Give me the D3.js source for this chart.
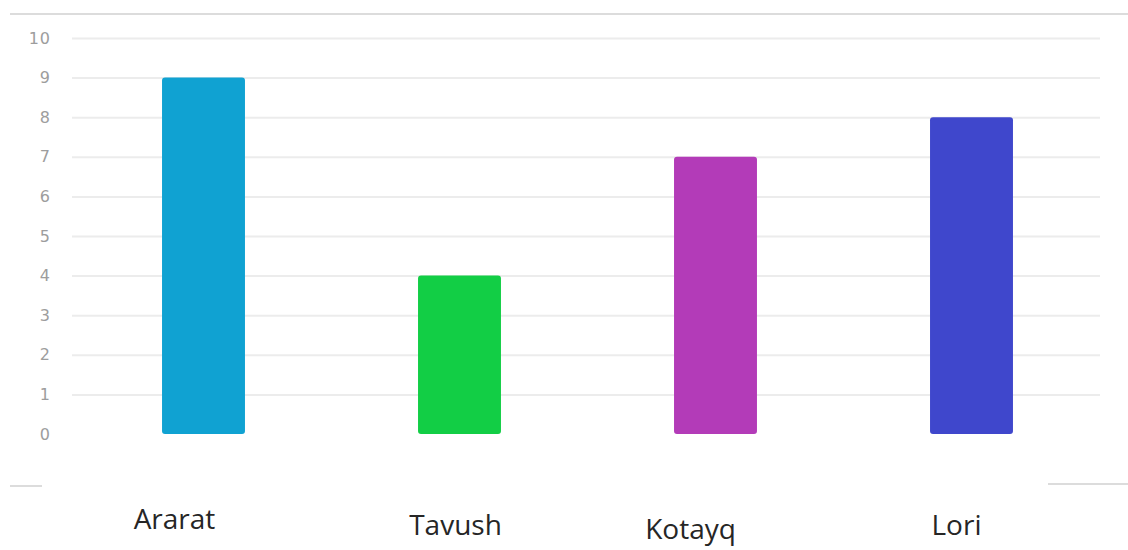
<!DOCTYPE html>
<html>
<head>
<meta charset="utf-8">
<script src="https://cdn.jsdelivr.net/npm/d3@7"></script>
<style>
body { margin: 0; background: #fff; }
.grid line { stroke: #ececec; stroke-width: 2; }
.grid path { display: none; }
.yaxis text { fill: #9d9d9d; font-family: "DejaVu Sans", sans-serif; font-size: 16px; letter-spacing: 1px; }
.yaxis path, .yaxis line { display: none; }
.cat { fill: #262626; font-family: "Open Sans", "Noto Sans", sans-serif; font-size: 28px; }
.frame { stroke: #dcdcdc; stroke-width: 2; }
</style>
</head>
<body>
<div id="canvas-container"></div>
<script>
var regions = ["Ararat", "Tavush", "Kotayq", "Lori"];
var counts = [9, 4, 7, 8];
var colors = ["#10a2d2", "#12ce45", "#b33bb8", "#3f47cc"];
var yTicks = [0, 1, 2, 3, 4, 5, 6, 7, 8, 9, 10];
// labels sit a bit off-centre in the original: [dx from bar centre, baseline y]
var labelShift = [[-29, 529], [-4, 535], [-25, 539], [-15, 535]];

var w = 1128, h = 550;

var svg = d3.select("#canvas-container").append("svg")
    .attr("width", w)
    .attr("height", h);

var x = d3.scaleBand()
    .domain(regions)
    .range([75.5, 1099.5])
    .paddingInner(0.676)
    .paddingOuter(0.338);

var y = d3.scaleLinear()
    .domain([0, 10])
    .range([434, 38]);

// frame bits
svg.append("line").attr("class", "frame")
    .attr("x1", 10).attr("x2", w).attr("y1", 14).attr("y2", 14);
svg.append("line").attr("class", "frame")
    .attr("x1", 10).attr("x2", 42).attr("y1", 486).attr("y2", 486);
svg.append("line").attr("class", "frame")
    .attr("x1", 1048).attr("x2", w).attr("y1", 484).attr("y2", 484);

// gridlines
svg.append("g")
    .attr("class", "grid")
    .attr("transform", "translate(72,0)")
    .call(d3.axisLeft(y).tickValues(yTicks.slice(1)).tickSize(-1028).tickFormat(""));

svg.append("g")
    .attr("class", "yaxis")
    .attr("transform", "translate(51,0)")
    .call(d3.axisLeft(y).tickValues(yTicks).tickSize(0).tickPadding(0).tickFormat(d3.format("d")));

svg.selectAll("rect.bar")
    .data(counts)
    .enter().append("rect")
    .attr("class", "bar")
    .attr("x", function(d, i) { return x(regions[i]); })
    .attr("width", x.bandwidth())
    .attr("y", function(d) { return y(d); })
    .attr("height", function(d) { return y(0) - y(d); })
    .attr("rx", 3)
    .attr("fill", function(d, i) { return colors[i]; });

svg.selectAll("text.cat")
    .data(regions)
    .enter().append("text")
    .attr("class", "cat")
    .attr("text-anchor", "middle")
    .attr("x", function(d, i) { return x(d) + x.bandwidth() / 2 + labelShift[i][0]; })
    .attr("y", function(d, i) { return labelShift[i][1]; })
    .text(function(d) { return d; });
</script>
</body>
</html>
